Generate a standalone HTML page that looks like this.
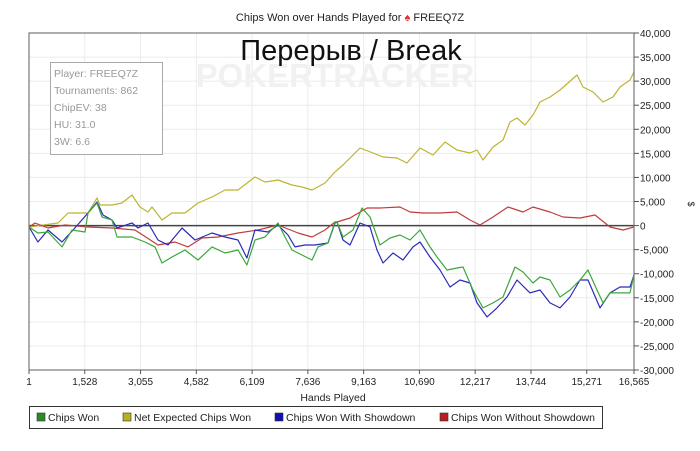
<!DOCTYPE html>
<html><head><meta charset="utf-8"><style>
body{margin:0;background:#fff;width:700px;height:446px;overflow:hidden;font-family:"Liberation Sans",sans-serif;}
svg text{font-family:"Liberation Sans",sans-serif;}
</style></head><body>
<svg id="chart" width="700" height="446" xmlns="http://www.w3.org/2000/svg">
<text x="350" y="21" font-size="11" text-anchor="middle" fill="#222">Chips Won over Hands Played for <tspan fill="#d33">♠</tspan> FREEQ7Z</text>
<g id="grid"></g>
<text x="335" y="87" font-size="33" font-weight="bold" text-anchor="middle" fill="#f1f1f1">POKERTRACKER</text>
<text x="351" y="60" font-size="29" text-anchor="middle" fill="#111">Перерыв / Break</text>
<g id="series"></g>
<rect x="29" y="33" width="605" height="337" fill="none" stroke="#777" stroke-width="1.2"/>
<g id="axes"></g>
<g>
<rect x="50.5" y="62.5" width="112" height="92" fill="#fff" stroke="#aaa"/>
<text x="54" y="77" font-size="10.5" fill="#999">Player: FREEQ7Z</text>
<text x="54" y="94" font-size="10.5" fill="#999">Tournaments: 862</text>
<text x="54" y="111" font-size="10.5" fill="#999">ChipEV: 38</text>
<text x="54" y="128" font-size="10.5" fill="#999">HU: 31.0</text>
<text x="54" y="145" font-size="10.5" fill="#999">3W: 6.6</text>
</g>
<text x="333" y="401" font-size="10.5" text-anchor="middle" fill="#222">Hands Played</text>
<text x="688" y="204" font-size="9" text-anchor="middle" fill="#222" transform="rotate(90 688 204)">$</text>
<g>
<rect x="29.5" y="406.5" width="573" height="22" fill="#fff" stroke="#333"/>
<g><rect x="37" y="413" width="8" height="8" fill="#2a8a2a" stroke="#333" stroke-width="0.6"/><text x="48" y="421" font-size="10.5" fill="#222">Chips Won</text></g>
<g><rect x="123" y="413" width="8" height="8" fill="#b8b020" stroke="#333" stroke-width="0.6"/><text x="134" y="421" font-size="10.5" fill="#222">Net Expected Chips Won</text></g>
<g><rect x="275" y="413" width="8" height="8" fill="#1010b0" stroke="#333" stroke-width="0.6"/><text x="286" y="421" font-size="10.5" fill="#222">Chips Won With Showdown</text></g>
<g><rect x="440" y="413" width="8" height="8" fill="#b82020" stroke="#333" stroke-width="0.6"/><text x="451" y="421" font-size="10.5" fill="#222">Chips Won Without Showdown</text></g>
</g>
</svg>
<script>
const xTicks=[1,1528,3055,4582,6109,7636,9163,10690,12217,13744,15271,16565];
const yTicks=[40000,35000,30000,25000,20000,15000,10000,5000,0,-5000,-10000,-15000,-20000,-25000,-30000];
const evHands=[1,794,1068,1615,1862,1944,2273,2546,2820,3039,3258,3368,3642,3915,4271,4627,5011,5366,5722,6188,6462,6818,7201,7475,7749,8104,8378,8597,9063,9419,9693,10076,10350,10706,11062,11390,11719,12075,12266,12431,12704,12978,13170,13362,13580,13800,13991,14265,14539,14758,15004,15169,15443,15716,15990,16182,16456,16565];
const evValues=[-300,540,2620,2620,5730,4280,4280,4690,6350,3860,2820,3860,1160,2620,2620,4690,5940,7390,7390,10090,9060,9470,8430,8020,7390,8850,11140,12590,16120,15080,14250,14040,13000,16120,14660,17360,15700,15080,15700,13630,16330,17780,21520,22350,20900,22970,25670,26710,28160,29620,31280,28790,27750,25670,26710,28790,30240,31900];
const wonHands=[1,246,520,904,1177,1533,1615,1862,1999,2273,2409,2820,3176,3450,3642,3915,4271,4627,5011,5366,5722,5968,6188,6462,6818,7010,7201,7475,7749,7913,8187,8378,8433,8597,8871,9118,9337,9610,9884,10158,10432,10706,10980,11171,11445,11719,11883,12157,12431,12704,12978,13307,13526,13800,13991,14265,14539,14813,15087,15306,15552,15716,15908,16182,16456,16565];
const wonValues=[-300,-1540,-1330,-4440,-910,-1330,2620,4690,1790,1160,-2370,-2370,-3410,-4440,-7770,-6520,-5070,-7150,-4440,-5690,-5070,-8180,-2990,-2370,540,-2370,-5070,-6110,-7150,-4440,-3610,750,750,-2370,-910,3660,1790,-4030,-2580,-1950,-2990,-910,-4440,-6520,-9220,-8810,-8600,-13380,-17110,-16070,-14830,-8600,-9640,-11920,-10680,-11300,-14830,-13380,-11300,-9220,-13380,-16070,-13990,-13990,-13990,-10260];
const sdHands=[1,246,520,904,1259,1615,1862,2026,2273,2409,2820,2984,3258,3532,3806,4189,4545,5011,5366,5722,5968,6188,6544,6818,7091,7283,7557,7831,8187,8378,8433,8597,8789,9063,9337,9528,9693,9966,10240,10514,10706,10980,11253,11527,11801,12075,12266,12540,12814,13088,13362,13717,13991,14265,14539,14813,15087,15306,15634,15908,16182,16456,16565];
const sdValues=[-300,-3410,-910,-3410,-500,2620,4900,2200,1160,-500,540,-500,540,-2990,-4030,-500,-2990,-1540,-2370,-2990,-6730,-910,-1330,120,-1950,-4440,-4030,-4030,-3610,540,750,-2990,-4030,540,-290,-5070,-7770,-5690,-7150,-4440,-3410,-6520,-9220,-12750,-11300,-11920,-16070,-18980,-17110,-14830,-11300,-13990,-13380,-16070,-17110,-14830,-11300,-11300,-17110,-13990,-12750,-12750,-10260];
const nsdHands=[1,164,520,986,1615,2273,2902,3532,3997,4353,4737,5175,5722,6270,6818,7365,7749,8104,8378,8433,8789,9254,9610,10158,10432,10788,11253,11719,12075,12349,12704,13115,13526,13800,14265,14621,15087,15497,15908,16264,16565];
const nsdValues=[-300,540,-500,120,-300,-500,-910,-4030,-3410,-4440,-2580,-2370,-1540,-910,120,-1540,-2370,-910,750,750,1580,3660,3660,3860,2820,2620,2620,2820,1160,120,1790,3860,2820,3860,2820,1790,1580,2200,-300,-910,-300];

const NS='http://www.w3.org/2000/svg';
const L=29,R=634,T=33,B=370,XMIN=1,XMAX=16565,YMIN=-30000,YMAX=40000;
function xs(h){return L+(h-XMIN)/(XMAX-XMIN)*(R-L);}
function ys(v){return B-(v-YMIN)/(YMAX-YMIN)*(B-T);}
function mk(tag,attrs,parent){const e=document.createElementNS(NS,tag);for(const k in attrs)e.setAttribute(k,attrs[k]);parent.appendChild(e);return e;}
const grid=document.getElementById('grid'),axes=document.getElementById('axes'),series=document.getElementById('series');
xTicks.forEach(t=>{const x=xs(t);
 const g=mk('line',{x1:x,x2:x,y1:T,y2:B,stroke:'#ebebeb'},grid);
 
 
 const tk=mk('line',{x1:x,x2:x,y1:B,y2:B+4,stroke:'#555'},axes);
 
 
 const lb=mk('text',{x:x,y:B+15,'font-size':'10','text-anchor':'middle',fill:'#222'},axes);
 lb.textContent=t.toLocaleString('en-US');
 
 
});
yTicks.forEach(t=>{const y=ys(t);
 const g=mk('line',{x1:L,x2:R,y1:y,y2:y,stroke:'#ebebeb'},grid);
 
 
 const tk=mk('line',{x1:R,x2:R+5,y1:y,y2:y,stroke:'#555'},axes);
 
 
 const lb=mk('text',{x:R+6,y:y+4,'font-size':'10',fill:'#222'},axes);
 lb.textContent=t.toLocaleString('en-US');
 
 
});
const zl=mk('line',{x1:L,x2:R,y1:ys(0),y2:ys(0),stroke:'#444','stroke-width':'1.5'},grid);


function line(hs,vs,color,name){
 const d=hs.map((h,i)=>(i?'L':'M')+xs(h).toFixed(1)+' '+ys(vs[i]).toFixed(1)).join(' ');
 const p=mk('path',{d:d,fill:'none',stroke:color,'stroke-width':'1.2','stroke-linejoin':'round'},series);
 
 
}
line(evHands,evValues,'#bdb431','net-expected-line');
line(nsdHands,nsdValues,'#c23b3b','without-showdown-line');
line(sdHands,sdValues,'#2a2ab8','with-showdown-line');
line(wonHands,wonValues,'#3aa83a','chips-won-line');
</script>
</body></html>
